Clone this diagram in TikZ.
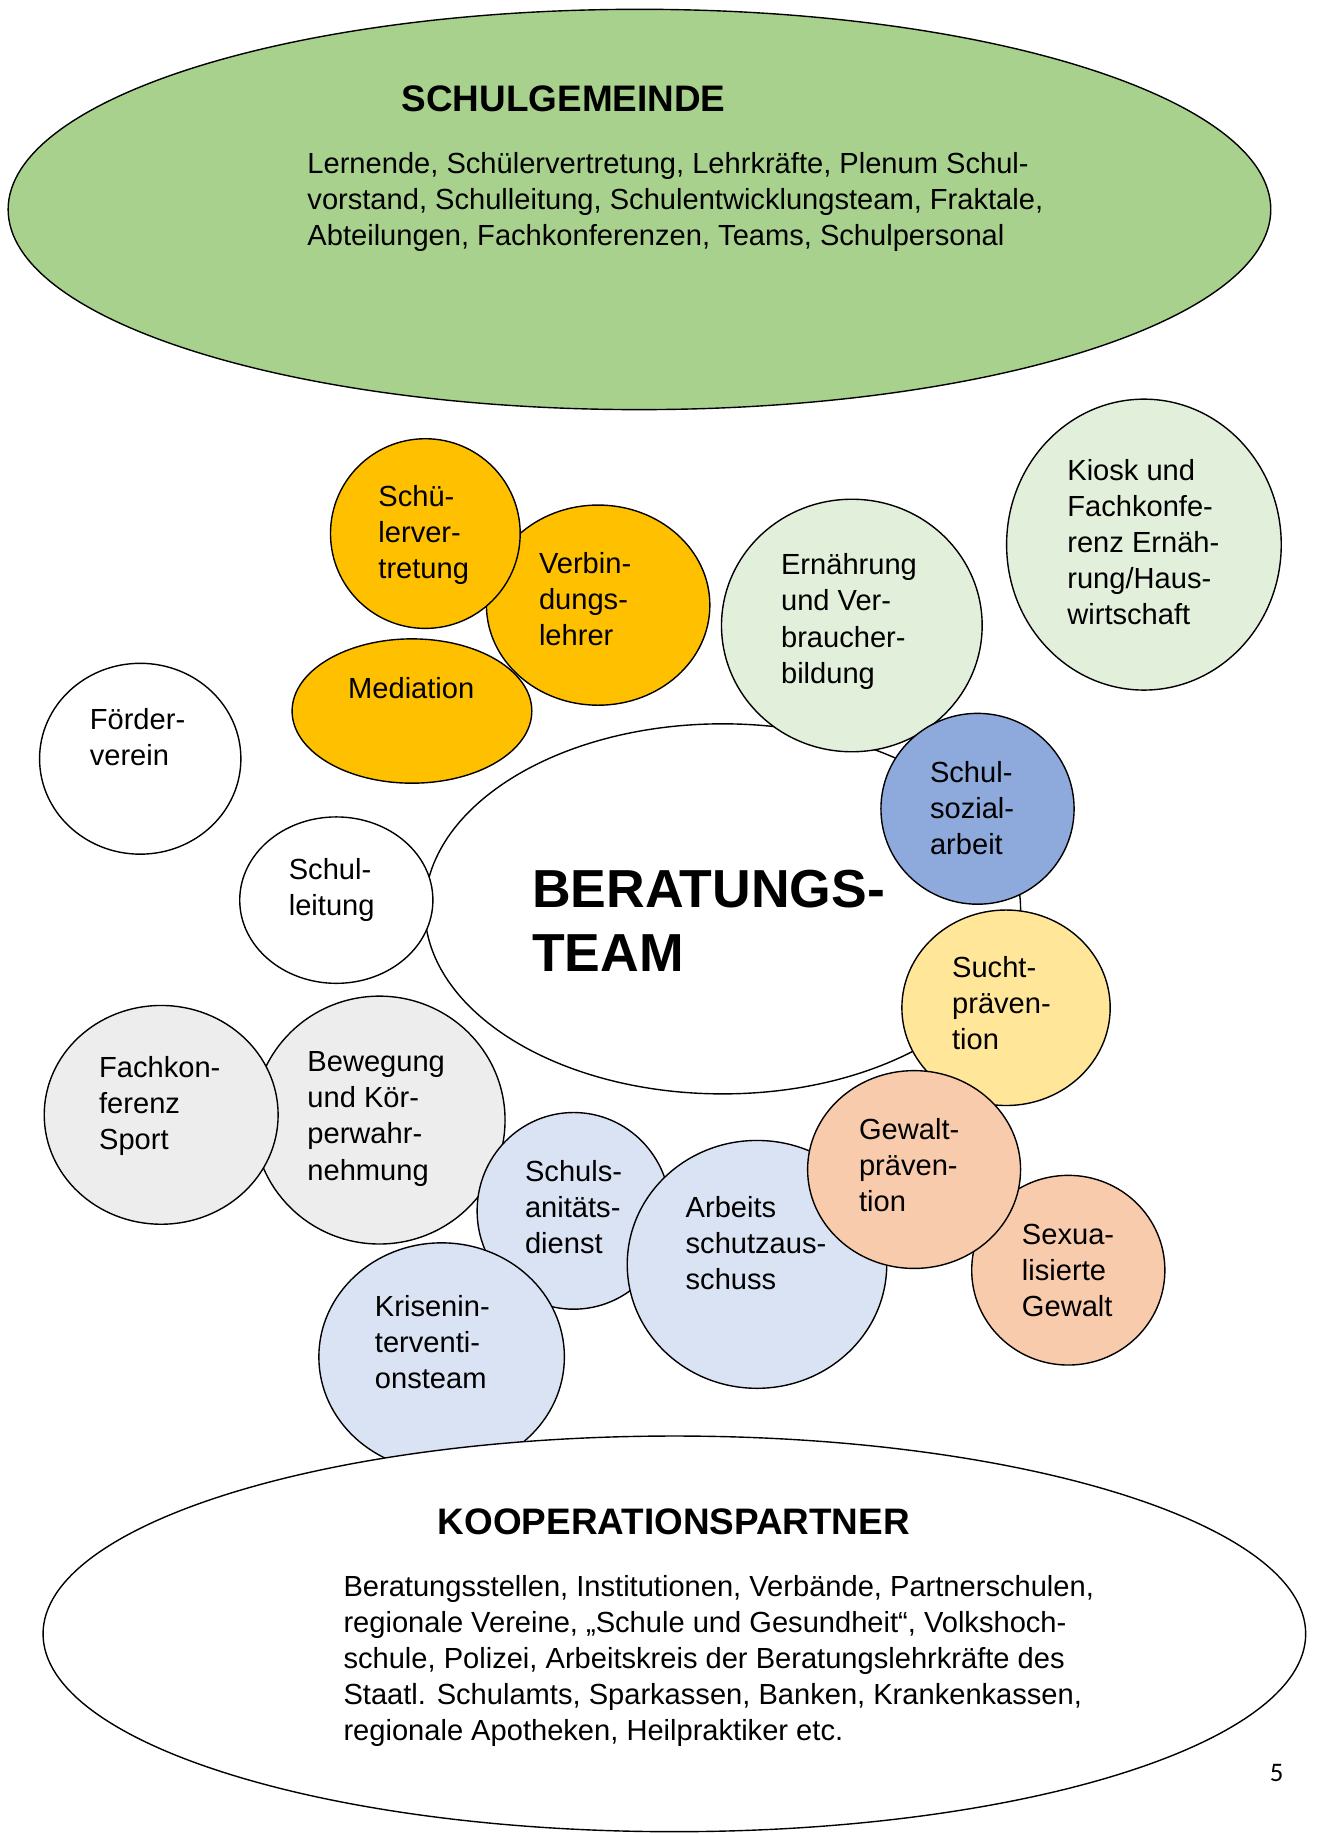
\documentclass[tikz,border=0pt]{standalone}
\usepackage{fontspec}
\setmainfont{Liberation Sans}
\newfontfamily\pagefont{Carlito}
\usetikzlibrary{shapes.geometric}
\definecolor{cgreen}{HTML}{A9D18E}
\definecolor{corange}{HTML}{FFC000}
\definecolor{clgreen}{HTML}{E2EFDA}
\definecolor{cblue}{HTML}{8EA9DB}
\definecolor{cyellow}{HTML}{FFE699}
\definecolor{cpeach}{HTML}{F8CBAD}
\definecolor{cpale}{HTML}{DAE3F3}
\definecolor{cgrey}{HTML}{EDEDED}
\newcommand\tl[1]{\begin{tabular}[t]{@{}l@{}}#1\end{tabular}}
\begin{document}
\begin{tikzpicture}[x=1pt,y=-1pt,
  bubble/.style={ellipse, draw=black, line width=1.2pt, inner sep=0pt, outer sep=0pt},
  sz/.style 2 args={minimum width=#1pt, minimum height=#2pt},
  lbl/.style={anchor=base west, inner sep=0pt, font=\fontsize{25}{31}\selectfont},
  head/.style={anchor=base west, inner sep=0pt, font=\fontsize{31.7}{38}\selectfont\bfseries},
  big/.style={anchor=base west, inner sep=0pt, font=\fontsize{46}{55}\selectfont\bfseries}]
\useasboundingbox (0,0) rectangle (1132,1576);
% shapes, back to front
\node[bubble, fill=cgreen, sz={1085}{344}] (gemeinde) at (549.5,180) {};
\node[bubble, fill=white, sz={512}{318}] (team) at (621,781) {};
\node[bubble, fill=corange, sz={192}{172}] (verb) at (514,520) {};
\node[bubble, fill=corange, sz={163}{163}] (svt) at (365.5,458.5) {};
\node[bubble, fill=corange, sz={206}{124}] (med) at (354,611) {};
\node[bubble, fill=white, sz={173}{164}] (foerd) at (120.5,652) {};
\node[bubble, fill=white, sz={166}{143}] (sl) at (289,773.5) {};
\node[bubble, fill=clgreen, sz={224}{217}] (ern) at (732,537.5) {};
\node[bubble, fill=clgreen, sz={236}{250}] (kiosk) at (983,468) {};
\node[bubble, fill=cblue, sz={166}{164}] (ssa) at (840,695) {};
\node[bubble, fill=cyellow, sz={179}{168}] (sucht) at (864.5,866) {};
\node[bubble, fill=cgrey, sz={216}{213}] (beweg) at (326,962.5) {};
\node[bubble, fill=cgrey, sz={201}{188}] (fks) at (138.5,958) {};
\node[bubble, fill=cpale, sz={166}{169}] (san) at (493,1040.5) {};
\node[bubble, fill=cpale, sz={223}{213}] (arb) at (650.5,1086.5) {};
\node[bubble, fill=cpale, sz={211}{196}] (krise) at (379.5,1166) {};
\node[bubble, fill=cpeach, sz={166}{163}] (sex) at (918,1091.5) {};
\node[bubble, fill=cpeach, sz={183}{170}] (gew) at (785.5,1005) {};
\node[bubble, fill=white, sz={1085}{340}] (koop) at (579.5,1404) {};
% texts
\node[head] (tgemh) at (345,96) {SCHULGEMEINDE};
\node[lbl] (tgem) at (264,149) {\tl{Lernende, Schülervertretung, Lehrkräfte, Plenum Schul-\\vorstand, Schulleitung, Schulentwicklungsteam, Fraktale,\\Abteilungen, Fachkonferenzen, Teams, Schulpersonal}};
\node[lbl] (tsvt) at (325,435) {\tl{Schü-\\lerver-\\tretung}};
\node[lbl] (tverb) at (463,493) {\tl{Verbin-\\dungs-\\lehrer}};
\node[lbl] (tmed) at (299,600) {Mediation};
\node[lbl] (tfoerd) at (77,627) {\tl{Förder-\\verein}};
\node[lbl] (tsl) at (248,756) {\tl{Schul-\\leitung}};
\node[big] (tteam) at (457,780) {\tl{BERATUNGS-\\TEAM}};
\node[lbl] (tern) at (671,494) {\tl{Ernährung\\und Ver-\\braucher-\\bildung}};
\node[lbl] (tkiosk) at (917,413) {\tl{Kiosk und\\Fachkonfe-\\renz Ernäh-\\rung/Haus-\\wirtschaft}};
\node[lbl] (tssa) at (799,672) {\tl{Schul-\\sozial-\\arbeit}};
\node[lbl] (tsucht) at (818,840) {\tl{Sucht-\\präven-\\tion}};
\node[lbl] (tgew) at (738,979) {\tl{Gewalt-\\präven-\\tion}};
\node[lbl] (tsex) at (878,1069) {\tl{Sexua-\\lisierte\\Gewalt}};
\node[lbl] (tarb) at (589,1046) {\tl{Arbeits\\schutzaus-\\schuss}};
\node[lbl] (tsan) at (451,1015) {\tl{Schuls-\\anitäts-\\dienst}};
\node[lbl] (tkrise) at (322,1131) {\tl{Krisenin-\\terventi-\\onsteam}};
\node[lbl] (tfks) at (85,926) {\tl{Fachkon-\\ferenz\\Sport}};
\node[lbl] (tbeweg) at (264,921) {\tl{Bewegung\\und Kör-\\perwahr-\\nehmung}};
\node[head] (tkooph) at (376,1319) {KOOPERATIONSPARTNER};
\node[lbl] (tkoop) at (295,1372) {\tl{Beratungsstellen, Institutionen, Verbände, Partnerschulen,\\regionale Vereine, „Schule und Gesundheit“, Volkshoch-\\schule, Polizei, Arbeitskreis der Beratungslehrkräfte des\\Staatl. Schulamts, Sparkassen, Banken, Krankenkassen,\\regionale Apotheken, Heilpraktiker etc.}};
\node[anchor=base west, inner sep=0pt, font=\pagefont\fontsize{23}{27}\selectfont] (pg) at (1091,1531) {5};
\end{tikzpicture}
\end{document}
